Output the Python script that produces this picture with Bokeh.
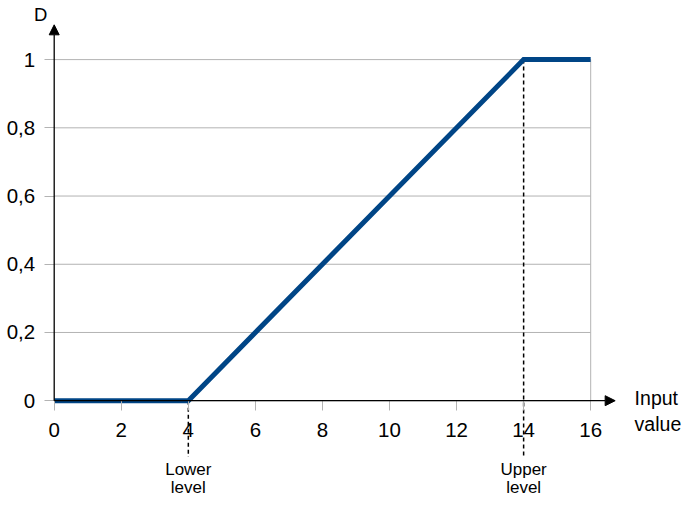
from bokeh.plotting import figure
from bokeh.models import Range1d, FixedTicker, Arrow, NormalHead, Label
from bokeh.embed import file_html
from bokeh.resources import INLINE
from bokeh.core.properties import value

# ---- data ----
input_values = [0, 4, 14, 16]
d_values = [0, 0, 1, 1]
x_ticks = [0, 2, 4, 6, 8, 10, 12, 14, 16]
x_tick_labels = ["0", "2", "4", "6", "8", "10", "12", "14", "16"]
y_ticks = [0, 0.2, 0.4, 0.6, 0.8, 1.0]
y_tick_labels = ["0", "0,2", "0,4", "0,6", "0,8", "1"]
level_x = [4, 14]
level_d = [0, 1]
level_line1 = ["Lower", "Upper"]
level_line2 = ["level", "level"]

FONT = "Liberation Sans"
GRID = "#b3b3b3"

p = figure(width=683, height=496, output_backend="svg", toolbar_location=None,
           x_range=Range1d(-1.6016, 18.768), y_range=Range1d(-0.2809, 1.1733),
           min_border=0, outline_line_color=None)
p.grid.visible = False

for ax, ticks, labels in ((p.xaxis[0], x_ticks, x_tick_labels), (p.yaxis[0], y_ticks, y_tick_labels)):
    ax.fixed_location = 0
    ax.ticker = FixedTicker(ticks=ticks)
    ax.major_label_overrides = {t: l for t, l in zip(ticks, labels)}
    ax.axis_line_color = None
    ax.major_tick_line_color = GRID
    ax.major_tick_out = 10
    ax.major_tick_in = 0
    ax.minor_tick_line_color = None
    ax.major_label_text_font = FONT
    ax.major_label_text_font_size = "20.5px"
    ax.major_label_text_color = "black"
p.xaxis[0].major_label_standoff = 12
p.yaxis[0].major_label_standoff = 9

# gridlines and right border
p.segment(x0=x_ticks[0], y0=y_ticks, x1=x_ticks[-1], y1=y_ticks, line_color=GRID, line_width=1)
p.segment(x0=x_ticks[-1], y0=y_ticks[0], x1=x_ticks[-1], y1=y_ticks[-1], line_color=GRID, line_width=1)

# dashed level markers
p.segment(x0=level_x, y0=level_d, x1=level_x, y1=-0.165, line_color="black",
          line_dash="4 3", line_width=1.5)

# data line
p.line(input_values, d_values, line_width=5, line_color="#004586", line_join="miter")

# level labels
p.text(x=level_x, y=-0.2017, text=level_line1, text_font=value(FONT), text_font_size="17px",
       text_align="center", text_baseline="alphabetic", text_color="black")
p.text(x=level_x, y=-0.2545, text=level_line2, text_font=value(FONT), text_font_size="17px",
       text_align="center", text_baseline="alphabetic", text_color="black")

# axis arrows
p.add_layout(Arrow(end=NormalHead(size=10, fill_color="black", line_color="black"),
                   x_start=0, y_start=0, x_end=16.73, y_end=0,
                   line_color="black", line_width=1.3))
p.add_layout(Arrow(end=NormalHead(size=10, fill_color="black", line_color="black"),
                   x_start=0, y_start=0, x_end=0, y_end=1.102,
                   line_color="black", line_width=1.3))

# axis titles
p.add_layout(Label(x=-0.406, y=1.1308, text="D", text_font=FONT, text_font_size="18.5px",
                   text_align="center", text_baseline="middle", text_color="black"))
p.add_layout(Label(x=17.31, y=0.0085, text="Input", text_font=FONT, text_font_size="19.5px",
                   text_align="left", text_baseline="alphabetic", text_color="black"))
p.add_layout(Label(x=17.31, y=-0.068, text="value", text_font=FONT, text_font_size="19.5px",
                   text_align="left", text_baseline="alphabetic", text_color="black"))

open("out.html", "w").write(file_html(p, INLINE))
